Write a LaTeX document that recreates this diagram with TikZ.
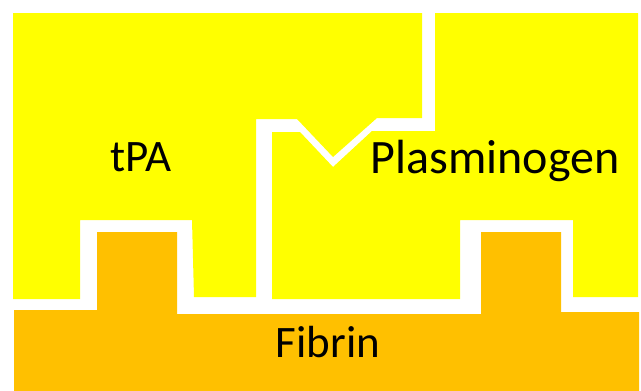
\documentclass[tikz,border=0pt]{standalone}
\usepackage{fontspec}
\setmainfont{Carlito}
\definecolor{enzyme}{HTML}{FFFF00}
\definecolor{clot}{HTML}{FFC000}
\begin{document}
\begin{tikzpicture}[x=1pt,y=-1pt,
  txt/.style={font=\fontsize{45}{54}\selectfont, text=black, inner sep=0pt, anchor=base}]
\useasboundingbox (0,0) rectangle (641,391);
\fill[white] (0,0) rectangle (641,391);
% tPA block with its V-shaped tooth and the notch over the fibrin ridge
\fill[enzyme] (13,13) -- (422,13) -- (422,118) -- (377,118) -- (333,157) -- (297,119)
  -- (256,119) -- (256,297) -- (194,297) -- (192,220) -- (80,220) -- (80,299)
  -- (13,299) -- cycle;
% plasminogen block with the matching V-shaped socket
\fill[enzyme] (435,13) -- (638,13) -- (638,297) -- (573,297) -- (573,220) -- (460,220)
  -- (460,299) -- (272,299) -- (272,132) -- (300,132) -- (333,167) -- (372,131)
  -- (435,131) -- cycle;
% fibrin base with two ridges
\fill[clot] (14,310) -- (97,310) -- (97,232) -- (177,232) -- (177,314) -- (481,314)
  -- (481,232) -- (561,232) -- (561,312) -- (639,312) -- (639,391) -- (14,391) -- cycle;
\node[txt] (tpa) at (141,171) {tPA};
\node[txt, font=\fontsize{48}{58}\selectfont] (plg) at (495,173) {Plasminogen};
\node[txt] (fib) at (328,357) {Fibrin};
\end{tikzpicture}
\end{document}
